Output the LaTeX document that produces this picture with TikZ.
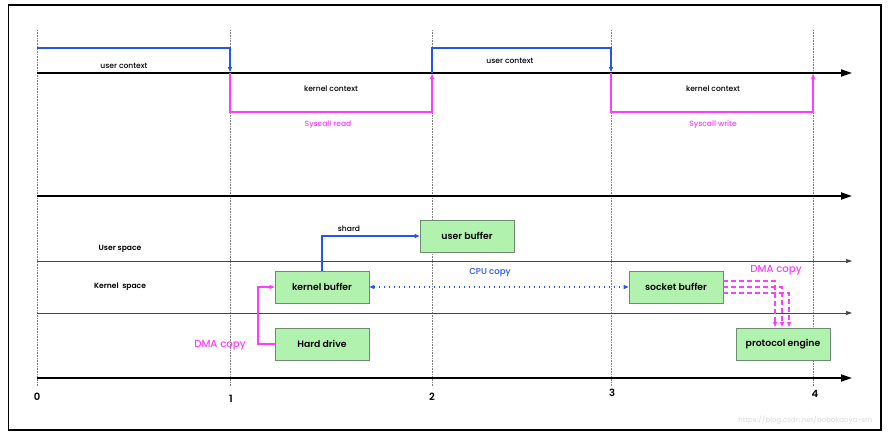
\documentclass[tikz,border=0pt]{standalone}
\usepackage{fontspec}
\setmainfont{Poppins}[UprightFont=* Medium, BoldFont=* SemiBold]
\usetikzlibrary{arrows.meta}
\definecolor{cblue}{RGB}{35,85,245}
\definecolor{cmag}{RGB}{255,60,255}
\definecolor{boxfill}{RGB}{178,242,175}
\definecolor{boxdraw}{RGB}{110,140,110}
\definecolor{axisgray}{RGB}{70,70,70}
\begin{document}
\begin{tikzpicture}[x=1pt,y=-1pt,
  bigaxis/.style={line width=1.8pt,-{Triangle[length=11pt,width=7pt]}},
  thinaxis/.style={line width=0.7pt,draw=axisgray,-{Triangle[length=6pt,width=4pt]}},
  vdot/.style={draw=gray,line width=0.6pt,densely dotted},
  ctxblue/.style={color=cblue,line width=1.1pt,-{Triangle[length=5pt,width=4pt]}},
  ctxmag/.style={color=cmag,line width=1.1pt,-{Triangle[length=5pt,width=4pt]}},
  small/.style={font=\fontsize{7.6}{9}\selectfont},
  boxnode/.style={draw=boxdraw,fill=boxfill,line width=0.8pt,minimum width=94pt,minimum height=32pt,font=\fontsize{9.3}{10}\selectfont\bfseries,inner sep=0pt},
  numlab/.style={font=\fontsize{10}{11}\selectfont\bfseries}
]
\useasboundingbox (0,0) rectangle (896,442);
\draw[line width=1.2pt] (8.5,5) rectangle (881,430);

% vertical dotted lines
\foreach \x/\n in {37/0,230/1,432/2,611/3,813/4}{
  \coordinate (vt\n) at (\x,30);
  \coordinate (vb\n) at (\x,386);
  \draw[vdot] (vt\n) -- (vb\n);
}

% axes
\coordinate (a1s) at (37,73);  \coordinate (a1e) at (852,73);
\coordinate (a2s) at (37,196); \coordinate (a2e) at (852,196);
\coordinate (a3s) at (37,261); \coordinate (a3e) at (852,261);
\coordinate (a4s) at (37,313); \coordinate (a4e) at (852,313);
\coordinate (a5s) at (37,378); \coordinate (a5e) at (852,378);
\draw[bigaxis] (a1s) -- (a1e);
\draw[bigaxis] (a2s) -- (a2e);
\draw[thinaxis] (a3s) -- (a3e);
\draw[thinaxis] (a4s) -- (a4e);
\draw[bigaxis] (a5s) -- (a5e);

% context lines
\coordinate (b0) at (37,48);
\coordinate (b1) at (230,48);
\coordinate (b1d) at (230,72);
\coordinate (b2) at (432,73);
\coordinate (b2u) at (432,48);
\coordinate (b3) at (611,48);
\coordinate (b3d) at (611,72);
\draw[ctxblue] (b0) -- (b1) -- (b1d);
\draw[ctxblue] (b2) -- (b2u) -- (b3) -- (b3d);

\coordinate (m1) at (230,73);
\coordinate (m1d) at (230,112);
\coordinate (m2d) at (432,112);
\coordinate (m2u) at (432,74);
\coordinate (m3) at (611,73);
\coordinate (m3d) at (611,112);
\coordinate (m4d) at (813,112);
\coordinate (m4u) at (813,74);
\draw[ctxmag] (m1) -- (m1d) -- (m2d) -- (m2u);
\draw[ctxmag] (m3) -- (m3d) -- (m4d) -- (m4u);

\node[small] (uc1) at (124,66) {user context};
\node[small] (kc1) at (331,89) {kernel context};
\node[small,text=cmag] (sr) at (328,125) {Syscall read};
\node[small] (uc2) at (510,61) {user context};
\node[small] (kc2) at (713,89) {kernel context};
\node[small,text=cmag] (sw) at (713,125) {Syscall write};

\node[font=\fontsize{7.6}{9}\selectfont\bfseries] (us) at (120,249) {User space};
\node[font=\fontsize{7.6}{9}\selectfont\bfseries] (ks) at (120,287) {Kernel \ space};

% boxes
\node[boxnode] (ub) at (467,236) {user buffer};
\node[boxnode] (kb) at (322,287) {kernel buffer};
\node[boxnode] (hd) at (322,344) {Hard drive};
\node[boxnode] (sb) at (676,287) {socket buffer};
\node[boxnode] (pe) at (783,344) {protocol engine};

% shard
\coordinate (shc) at (kb.north |- ub.west);
\draw[ctxblue] (kb.north) -- (shc) -- (ub.west);
\node[small] (shard) at (349,229) {shard};

% CPU copy
\draw[color=cblue,line width=1.1pt,dash pattern=on 1.3pt off 3.7pt,{Triangle[length=5pt,width=4pt]}-{Triangle[length=5pt,width=4pt]}] (kb.east) -- (sb.west);
\node[text=cblue,font=\fontsize{8.6}{10}\selectfont] (cpu) at (490,273) {CPU copy};

% DMA copy left
\coordinate (dl) at (258,344);
\draw[ctxmag] (hd.west) -- (dl) |- (kb.west);
\node[text=cmag,font=\fontsize{10.2}{11}\selectfont] (dmal) at (220,345) {DMA copy};

% DMA copy right (three dashed)
\foreach \dy/\xx in {-6/789,0/782,6/775}{
  \draw[color=cmag,line width=1.1pt,dash pattern=on 5pt off 3pt,-{Triangle[length=5pt,width=4pt]}]
    ([yshift=\dy pt]sb.east) -| (\xx,327);
}
\node[text=cmag,font=\fontsize{10.2}{11}\selectfont] (dmar) at (776,270) {DMA copy};

% numbers
\node[numlab] (n0) at (37,397) {0};
\node[numlab] (n1) at (231,399) {1};
\node[numlab] (n2) at (432,397) {2};
\node[numlab] (n3) at (612,393) {3};
\node[numlab] (n4) at (815,394) {4};

% watermark
\node[text=black!12,font=\fontsize{7}{8}\selectfont,anchor=east] (wm) at (876,420) {https://blog.csdn.net/bobokaoya-sm};
\end{tikzpicture}
\end{document}
